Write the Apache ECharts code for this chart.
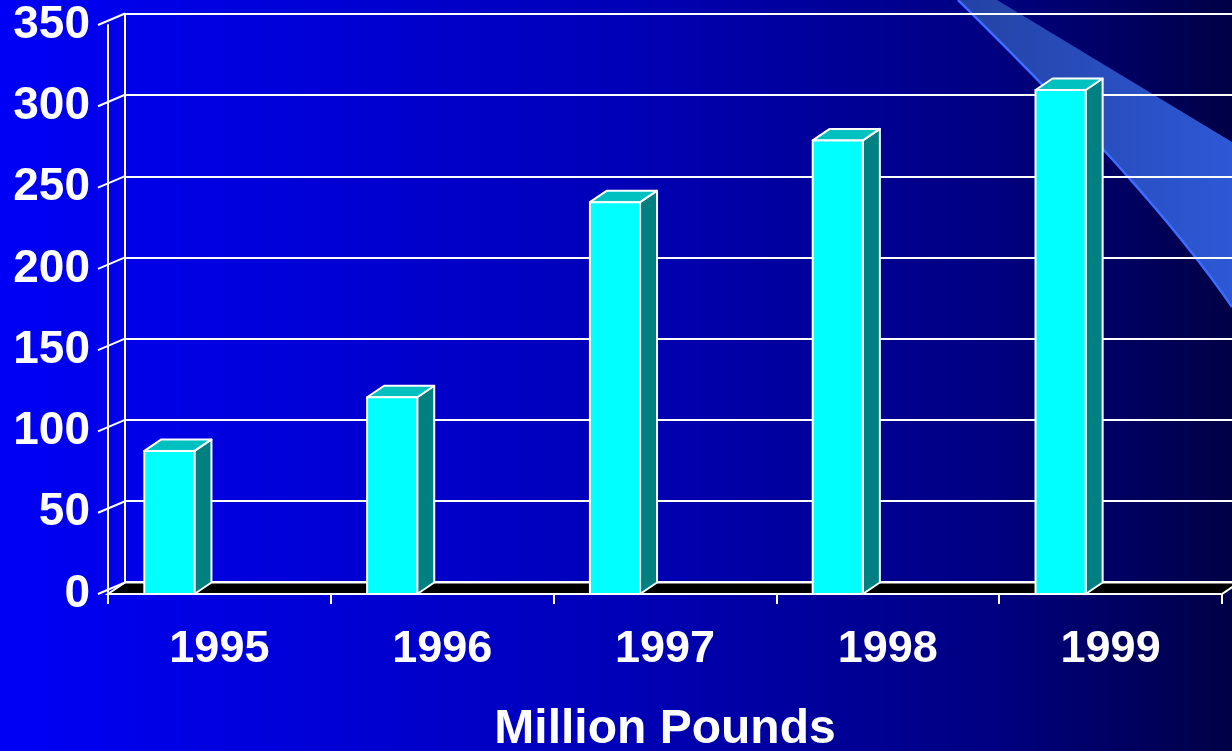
<!DOCTYPE html>
<html>
<head>
<meta charset="utf-8">
<script src="https://cdn.jsdelivr.net/npm/echarts@6/dist/echarts.min.js"></script>
<style>
html,body{margin:0;padding:0;width:1232px;height:751px;overflow:hidden;}
#chart{width:1232px;height:751px;}
</style>
</head>
<body>
<div id="chart"></div>
<script>
const categories = ['1995', '1996', '1997', '1998', '1999'];
const values = [88, 121, 241, 279, 310];
const yTicks = [0, 50, 100, 150, 200, 250, 300, 350];
const axisTitle = 'Million Pounds';

const DX = 17, DY = -11.5;
const FONT = '"Liberation Sans", Arial, sans-serif';

const chart = echarts.init(document.getElementById('chart'));

// decorative light streak
const P0 = [958, 0], C = [1152, 190], P2 = [1232, 307];
const curve = [];
for (let i = 0; i <= 40; i++) {
  const t = i / 40;
  curve.push([
    (1 - t) * (1 - t) * P0[0] + 2 * (1 - t) * t * C[0] + t * t * P2[0],
    (1 - t) * (1 - t) * P0[1] + 2 * (1 - t) * t * C[1] + t * t * P2[1]
  ]);
}
const streakPts = [[997, 0], [1232, 142]].concat(curve.slice().reverse());

function floorItem(params, api) {
  const bw = api.size([1, 0])[0];
  const c0 = api.coord([0, 0]);
  const cN = api.coord([categories.length - 1, 0]);
  const l = c0[0] - bw / 2, r = cN[0] + bw / 2, y = c0[1];
  return {
    type: 'polygon',
    shape: { points: [[l, y], [r, y], [r + DX, y + DY], [l + DX, y + DY]] },
    style: { fill: '#000000', stroke: '#ffffff', lineWidth: 2 }
  };
}

function sideItem(params, api) {
  const bw = api.size([1, 0])[0];
  const c = api.coord([0, api.value(1)]);
  const l = c[0] - bw / 2;
  return {
    type: 'line',
    shape: { x1: l - 10, y1: c[1], x2: l + DX, y2: c[1] + DY },
    style: { stroke: '#ffffff', lineWidth: 2 }
  };
}

function barItem(params, api) {
  const bw = api.size([1, 0])[0];
  const idx = api.value(0);
  const top = api.coord([idx, api.value(1)]);
  const base = api.coord([idx, 0]);
  const xl = top[0] - 0.337 * bw;
  const w = 0.225 * bw;
  const xr = xl + w;
  const yt = top[1], yb = base[1];
  const st = { stroke: '#ffffff', lineWidth: 2, lineJoin: 'round' };
  return {
    type: 'group',
    children: [
      { type: 'polygon', shape: { points: [[xr, yt], [xr + DX, yt + DY], [xr + DX, yb + DY], [xr, yb]] },
        style: Object.assign({ fill: '#008080' }, st) },
      { type: 'polygon', shape: { points: [[xl, yt], [xl + DX, yt + DY], [xr + DX, yt + DY], [xr, yt]] },
        style: Object.assign({ fill: '#00c0c0' }, st) },
      { type: 'rect', shape: { x: xl, y: yt, width: w, height: yb - yt },
        style: Object.assign({ fill: '#00ffff' }, st) }
    ]
  };
}

const option = {
  animation: false,
  backgroundColor: {
    type: 'linear', x: 0, y: 0, x2: 1, y2: 0,
    colorStops: [
      { offset: 0, color: '#0000f6' },
      { offset: 0.5, color: '#0000b8' },
      { offset: 0.81, color: '#000080' },
      { offset: 1, color: '#000046' }
    ]
  },
  graphic: [
    {
      type: 'polygon', z: -10, silent: true,
      shape: { points: streakPts },
      style: {
        fill: { type: 'linear', x: 0, y: 0, x2: 1, y2: 0,
          colorStops: [{ offset: 0, color: '#2442a4' }, { offset: 1, color: '#2d58d6' }] }
      }
    },
    {
      type: 'polyline', z: -9, silent: true,
      shape: { points: curve },
      style: { stroke: '#3d6dff', lineWidth: 2.5, fill: null }
    }
  ],
  grid: [
    { left: 108, right: 10, top: 25, bottom: 157, containLabel: false, outerBoundsMode: 'none' },
    { left: 125, right: 0, top: 14, bottom: 169, containLabel: false, outerBoundsMode: 'none' }
  ],
  xAxis: [
    {
      type: 'category', gridIndex: 0, data: categories, boundaryGap: true,
      axisLine: { show: true, lineStyle: { color: '#ffffff', width: 2 } },
      axisTick: { show: true, length: 10, lineStyle: { color: '#ffffff', width: 2 } },
      axisLabel: { color: '#ffffff', fontSize: 45, fontWeight: 'bold', fontFamily: FONT, margin: 33 },
      splitLine: { show: false },
      name: axisTitle, nameLocation: 'middle', nameGap: 112,
      nameTextStyle: { color: '#ffffff', fontSize: 48, fontWeight: 'bold', fontFamily: FONT }
    },
    {
      type: 'category', gridIndex: 1, data: categories, show: false
    }
  ],
  yAxis: [
    {
      type: 'value', gridIndex: 0, min: 0, max: 350, interval: 50,
      axisLine: { show: true, lineStyle: { color: '#ffffff', width: 2 } },
      axisTick: { show: false },
      axisLabel: { color: '#ffffff', fontSize: 46, fontWeight: 'bold', fontFamily: FONT, margin: 18, padding: [7, 0, 0, 0] },
      splitLine: { show: false }
    },
    {
      type: 'value', gridIndex: 1, min: 0, max: 350, interval: 50,
      axisLine: { show: true, lineStyle: { color: '#ffffff', width: 2 } },
      axisTick: { show: false },
      axisLabel: { show: false },
      splitLine: { show: true, lineStyle: { color: '#ffffff', width: 2 } }
    }
  ],
  series: [
    {
      type: 'custom', xAxisIndex: 0, yAxisIndex: 0, z: 3, silent: true,
      data: [[0, 0]], renderItem: floorItem
    },
    {
      type: 'custom', xAxisIndex: 0, yAxisIndex: 0, z: 3, silent: true,
      data: yTicks.map(v => [0, v]), renderItem: sideItem
    },
    {
      type: 'custom', xAxisIndex: 0, yAxisIndex: 0, z: 5,
      data: values.map((v, i) => [i, v]), renderItem: barItem
    }
  ]
};
chart.setOption(option);
</script>
</body>
</html>
